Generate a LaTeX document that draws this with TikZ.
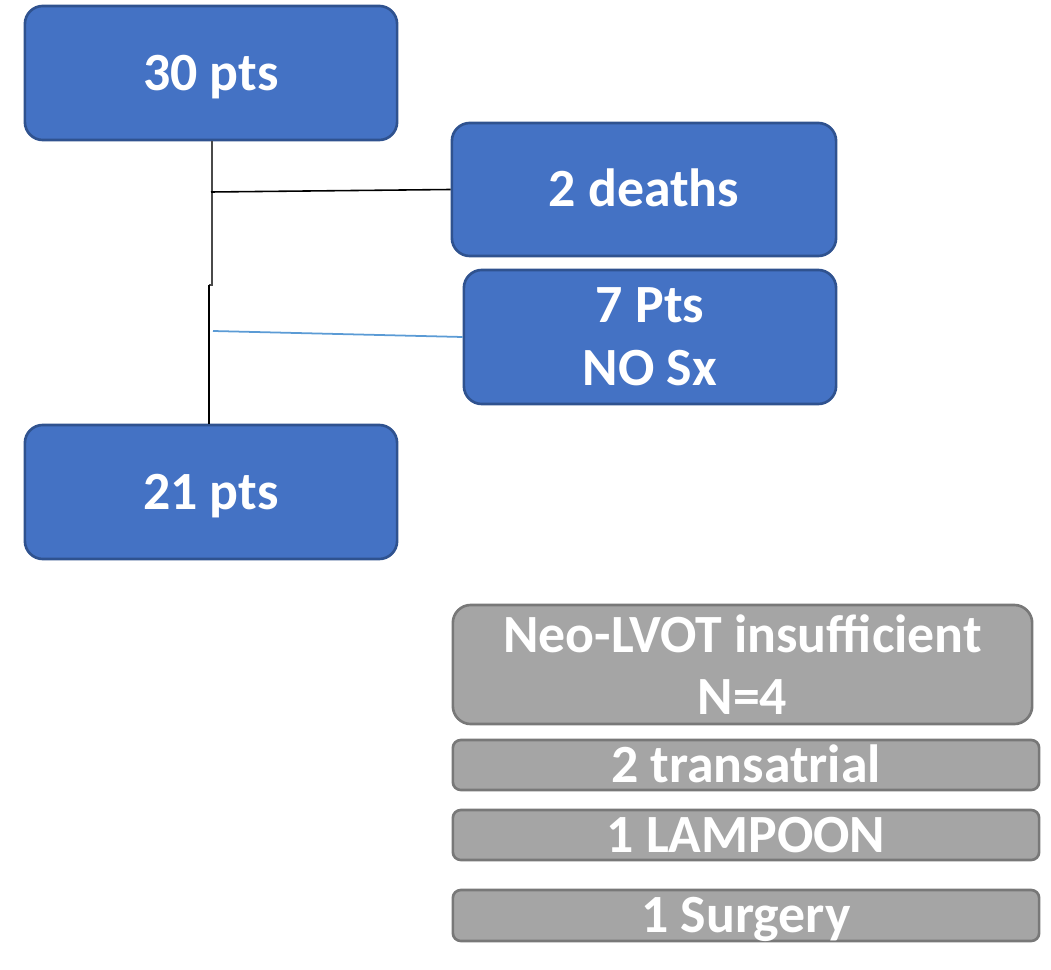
\documentclass[tikz,border=0pt]{standalone}
\usepackage{fontspec}
\setmainfont{Carlito}
\definecolor{boxblue}{HTML}{4472C4}
\definecolor{boxblueline}{HTML}{2F528F}
\definecolor{boxgray}{HTML}{A5A5A5}
\definecolor{boxgrayline}{HTML}{787878}
\definecolor{lineblue}{HTML}{5B9BD5}
\definecolor{linegray}{HTML}{4A4A4A}
\begin{document}
\begin{tikzpicture}[x=0.01cm,y=-0.01cm,
  lbl/.style={font=\fontsize{15.3}{17.8}\selectfont\bfseries, text=white, inner sep=0pt, align=center},
  bluebox/.style={lbl, draw=boxblueline, fill=boxblue, line width=0.75pt, rounded corners=0.18cm},
  graybox/.style={lbl, draw=boxgrayline, fill=boxgray, line width=0.75pt, rounded corners=0.18cm},
  thinbox/.style={lbl, draw=boxgrayline, fill=boxgray, line width=0.75pt, rounded corners=0.08cm, text height=0.345cm, text depth=0pt},
  conn/.style={line width=0.45pt, draw=black},
  bconn/.style={line width=0.5pt, draw=lineblue}]
\useasboundingbox (0,0) rectangle (1051,970);
% blue boxes
\node[bluebox, minimum width=3.72cm, minimum height=1.34cm, text height=0.345cm, text depth=0pt] (pts30) at (211,73) {30 pts};
\node[bluebox, minimum width=3.84cm, minimum height=1.33cm, text height=0.345cm, text depth=0pt] (deaths) at (644,189.5) {2 deaths};
\node[bluebox, minimum width=3.72cm, minimum height=1.34cm] (nosx) at (650,337) {7 Pts\\NO Sx};
\node[bluebox, minimum width=3.72cm, minimum height=1.34cm, text height=0.345cm, text depth=0pt] (pts21) at (211,492) {21 pts};
% gray boxes
\node[graybox, minimum width=5.79cm, minimum height=1.19cm] (neo) at (742.5,664.5) {Neo-LVOT insufficient\\N=4};
\node[thinbox, minimum width=5.86cm, minimum height=0.50cm] (trans) at (746,765) {2 transatrial};
\node[thinbox, minimum width=5.86cm, minimum height=0.50cm] (lamp) at (746,835) {1 LAMPOON};
\node[thinbox, minimum width=5.86cm, minimum height=0.51cm] (surg) at (746,915.5) {1 Surgery};
% connectors
\coordinate (j1) at (212,285);
\coordinate (j2) at (209,285);
\coordinate (h1) at (211,192);
\coordinate (h2) at (213,331);
\draw[conn, draw=linegray] (pts30.south -| j1) -- (j1) -- (j2);
\draw[conn] (j2) -- (j2 |- pts21.north);
\draw[conn] (h1) -- (deaths.west);
\draw[bconn] (h2) -- (nosx.west);
\end{tikzpicture}
\end{document}
